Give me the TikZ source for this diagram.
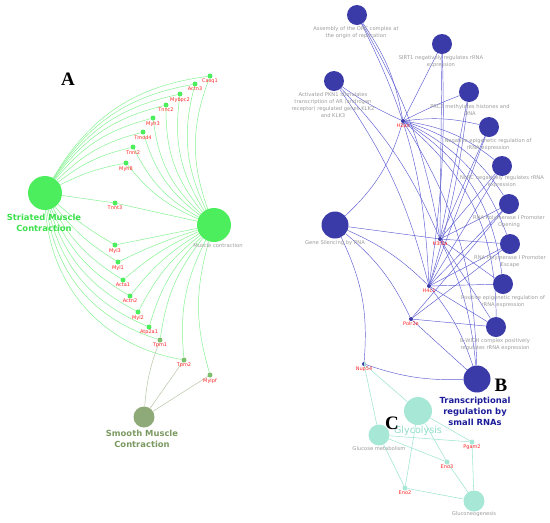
\documentclass[tikz,border=0pt]{standalone}
\usepackage{fontspec}
\setmainfont{DejaVu Sans}
\newfontfamily\panelfont{Liberation Serif}
\usetikzlibrary{positioning,backgrounds}
\definecolor{strgreen}{HTML}{4DEE5E}
\definecolor{stredge}{HTML}{86F192}
\definecolor{strtext}{HTML}{3BE04C}
\definecolor{smooth}{HTML}{8EAA78}
\definecolor{smoothtext}{HTML}{7B9A62}
\definecolor{smoothedge}{HTML}{B6C6A6}
\definecolor{shared}{HTML}{7CBF6C}
\definecolor{trna}{HTML}{3A3AA8}
\definecolor{trnaedge}{HTML}{5C5CD2}
\definecolor{trnatext}{HTML}{1C1C9A}
\definecolor{glyco}{HTML}{A6E7D5}
\definecolor{glycoedge}{HTML}{A0E4D2}
\definecolor{glycotext}{HTML}{8EDCC7}
\definecolor{genered}{HTML}{FF2626}
\definecolor{termgray}{HTML}{9B9B9B}
\tikzset{
  hub/.style={circle, draw=none, inner sep=0pt, minimum size=#1},
  strnode/.style={hub=34, fill=strgreen},
  smoothnode/.style={hub=21, fill=smooth},
  agene/.style={hub=5, fill=strgreen},
  sgene/.style={hub=5, fill=shared},
  bterm/.style={hub=20, fill=trna},
  bbig/.style={hub=27, fill=trna},
  bgene/.style={hub=4, fill=trna},
  cterm/.style={hub=21, fill=glyco},
  cgene/.style={hub=5, fill=glyco},
  genetext/.style={font=\fontsize{5}{5.5}\selectfont, text=genered, inner sep=0.3pt},
  termtext/.style={font=\fontsize{5.2}{7}\selectfont, text=termgray, align=center, inner sep=0pt},
  bigtext/.style={font=\bfseries\fontsize{8.4}{11}\selectfont, align=center, inner sep=0pt},
  paneltext/.style={font=\panelfont\bfseries\fontsize{19}{19}\selectfont, inner sep=0pt},
  aedge/.style={draw=stredge, line width=0.5pt},
  sedge/.style={draw=smoothedge, line width=0.5pt},
  bedge/.style={draw=trnaedge, line width=0.45pt},
  cedge/.style={draw=glycoedge, line width=0.55pt},
}
\newcommand{\gene}[5]{%
  \node[#1] (#2) at (#3,#4) {};
  \node[genetext, below=0pt of #2] (#2-t) {#5};
}

\begin{document}
\begin{tikzpicture}[x=1pt, y=-1pt, line cap=round, line join=round]
\path[use as bounding box] (0,0) rectangle (550,523);

% A: muscle contraction
\node[strnode] (striated) at (45,193) {};
\node[strnode] (musclec) at (214,225) {};
\node[smoothnode] (smooth) at (144,417) {};
\node[bigtext, text=strtext] (striated-t) at (44,223) {Striated Muscle\\Contraction};
\node[termtext] (musclec-t) at (218,246) {Muscle contraction};
\node[bigtext, text=smoothtext] (smooth-t) at (142,439) {Smooth Muscle\\Contraction};
\node[paneltext] (panela) at (68,79) {A};

\foreach \n/\x/\y/\t in {casq1/210/76/Casq1, actn3/195/84/Actn3, mybpc2/180/94/Mybpc2,
    tnnc2/166/105/Tnnc2, myh3/153/118/Myh3, tmod4/143/132/Tmod4, tnni2/133/147/Tnni2,
    myh8/126/163/Myh8, tnnt3/115/203/Tnnt3, myl3/115/245/Myl3, myl1/118/262/Myl1,
    acta1/123/280/Acta1, actn2/130/296/Actn2, myl2/138/312/Myl2, atp2a1/149/327/Atp2a1}
  {\gene{agene}{\n}{\x}{\y}{\t}}
\gene{sgene}{tpm1}{160}{340}{Tpm1}
\gene{sgene}{tpm2}{184}{360}{Tpm2}
\gene{sgene}{mylpf}{210}{375}{Mylpf}

\begin{scope}[on background layer]
  \foreach \g/\a/\b in {casq1/26/20, actn3/24/20, mybpc2/22/20, tnnc2/20/20, myh3/18/20,
      tmod4/15/18, tnni2/12/17, myh8/8/14, tnnt3/0/0}{
    \draw[aedge] (striated) to[bend left=\a] (\g);
    \draw[aedge] (\g) to[bend right=\b] (musclec);
  }
  \foreach \g/\a/\b in {myl3/5/0, myl1/10/4, acta1/14/8, actn2/18/10, myl2/22/12,
      atp2a1/27/14, tpm1/32/15, tpm2/38/16}{
    \draw[aedge] (striated) to[bend right=\a] (\g);
    \draw[aedge] (\g) to[bend left=\b] (musclec);
  }
  \draw[aedge] (mylpf) to[bend left=16] (musclec);
  \draw[sedge] (smooth) to[bend left=8] (tpm1);
  \draw[sedge] (smooth) -- (tpm2);
  \draw[sedge] (smooth) -- (mylpf);
\end{scope}

% B: transcriptional regulation by small RNAs
\node[bterm] (orc) at (357,15) {};
\node[bterm] (sirt1) at (442,44) {};
\node[bterm] (pkn1) at (334,81) {};
\node[bterm] (prc2) at (469,92) {};
\node[bterm] (negepi) at (489,127) {};
\node[bterm] (norc) at (502,166) {};
\node[bterm] (polopen) at (509,204) {};
\node[bterm] (polesc) at (510,244) {};
\node[bterm] (posepi) at (503,284) {};
\node[bterm] (bwich) at (496,327) {};
\node[bbig] (silencing) at (335,225) {};
\node[bbig] (smallrna) at (477,379) {};

\node[termtext] (orc-t) at (356,32.5) {Assembly of the ORC complex at\\the origin of replication};
\node[termtext] (sirt1-t) at (441,61.5) {SIRT1 negatively regulates rRNA\\expression};
\node[termtext] (pkn1-t) at (333,105.5) {Activated PKN1 stimulates\\transcription of AR (androgen\\receptor) regulated genes KLK2\\and KLK3};
\node[termtext] (prc2-t) at (470,110.5) {PRC2 methylates histones and\\DNA};
\node[termtext] (negepi-t) at (488,144.5) {Negative epigenetic regulation of\\rRNA expression};
\node[termtext] (norc-t) at (502,182) {NoRC negatively regulates rRNA\\expression};
\node[termtext] (polopen-t) at (509,222) {RNA Polymerase I Promoter\\Opening};
\node[termtext] (polesc-t) at (510,262) {RNA Polymerase I Promoter\\Escape};
\node[termtext] (posepi-t) at (503,301.5) {Positive epigenetic regulation of\\rRNA expression};
\node[termtext] (bwich-t) at (495,345) {B-WICH complex positively\\regulates rRNA expression};
\node[termtext] (silencing-t) at (335,243) {Gene Silencing by RNA};
\node[bigtext, text=trnatext] (smallrna-t) at (475,411) {Transcriptional\\regulation by\\small RNAs};
\node[paneltext] (panelb) at (501,385) {B};

\gene{bgene}{h2ax}{403}{121}{H2ax}
\gene{bgene}{h3f3a}{440}{239}{H3f3a}
\gene{bgene}{h4c1}{429}{286}{H4c1}
\gene{bgene}{polr2e}{411}{319}{Polr2e}
\node[bgene, path picture={\fill[glyco] (path picture bounding box.south)
  rectangle (path picture bounding box.north east);}] (nup54) at (364,364) {};
\node[genetext, below=0pt of nup54] (nup54-t) {Nup54};

\begin{scope}[on background layer]
  \foreach \g/\p/\b in {h2ax/orc/-12, h2ax/sirt1/0, h2ax/pkn1/5, h2ax/prc2/3,
      h2ax/negepi/10, h2ax/norc/15, h2ax/polopen/20, h2ax/polesc/22, h2ax/posepi/25,
      h2ax/bwich/25, h2ax/silencing/15, h2ax/smallrna/15,
      h3f3a/orc/-10, h3f3a/pkn1/-10, h3f3a/sirt1/0, h3f3a/prc2/0, h3f3a/negepi/0,
      h3f3a/norc/0, h3f3a/polopen/0, h3f3a/polesc/0, h3f3a/posepi/0, h3f3a/bwich/0,
      h3f3a/silencing/0, h3f3a/smallrna/10,
      h4c1/orc/-12, h4c1/pkn1/-10, h4c1/sirt1/-5, h4c1/prc2/-5, h4c1/negepi/0,
      h4c1/norc/0, h4c1/polopen/0, h4c1/polesc/0, h4c1/posepi/0, h4c1/bwich/0,
      h4c1/silencing/-10, h4c1/smallrna/10,
      polr2e/silencing/-12, polr2e/polopen/0, polr2e/polesc/0, polr2e/bwich/0,
      polr2e/smallrna/0, nup54/silencing/-15, nup54/smallrna/-10}
    {\draw[bedge] (\g) to[bend left=\b] (\p);}
\end{scope}

% C: glycolysis
\node[cterm, hub=28] (glycolysis) at (418,411) {};
\node[cterm] (glucosemet) at (379,435) {};
\node[cterm] (gluconeo) at (474,501) {};
\node[font=\fontsize{9.6}{10}\selectfont, text=glycotext, inner sep=0pt] (glycolysis-t) at (418,431) {Glycolysis};
\node[termtext] (glucosemet-t) at (379,449) {Glucose metabolism};
\node[termtext] (gluconeo-t) at (474,514) {Gluconeogenesis};
\node[paneltext] (panelc) at (392,423) {C};

\gene{cgene}{pgam2}{472}{442}{Pgam2}
\gene{cgene}{eno3}{447}{462}{Eno3}
\gene{cgene}{eno2}{405}{488}{Eno2}

\begin{scope}[on background layer]
  \foreach \a/\b in {nup54/glycolysis, nup54/glucosemet, glycolysis/pgam2, glycolysis/eno3,
      glycolysis/eno2, glucosemet/pgam2, glucosemet/eno3, glucosemet/eno2,
      gluconeo/pgam2, gluconeo/eno3, gluconeo/eno2}
    {\draw[cedge] (\a) -- (\b);}
\end{scope}
\end{tikzpicture}
\end{document}
